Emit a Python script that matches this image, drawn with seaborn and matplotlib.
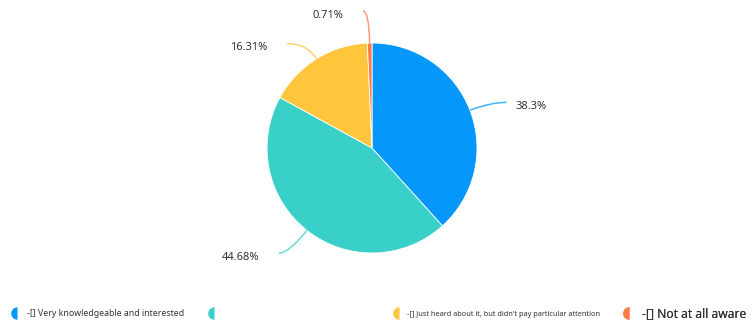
import numpy as np
import matplotlib
matplotlib.use("Agg")
import matplotlib.pyplot as plt
import seaborn as sns
from matplotlib.lines import Line2D
from matplotlib.markers import MarkerStyle
from matplotlib.path import Path
from matplotlib.patches import PathPatch

# data
categories = ["-[] Very knowledgeable and interested",
              "",
              "-[] Just heard about it, but didn't pay particular attention",
              "-[] Not at all aware"]
shares = [38.3, 44.68, 16.31, 0.71]
share_labels = ["38.3%", "44.68%", "16.31%", "0.71%"]
colors = ["#0598FA", "#38D0C8", "#FFC53D", "#FF7A45"]

# leader line lengths (radial part, horizontal part)
leader_l1 = [22, 29, 18, 32]
leader_l2 = [16, 10, 20, 6]

sns.set_theme(style="white")
plt.rcParams['font.family'] = ['Noto Sans', 'DejaVu Sans']

W, H = 752, 324
fig = plt.figure(figsize=(W / 100, H / 100), dpi=100)
ax = fig.add_axes([0, 0, 1, 1])

cx, cy, r = 372, 176, 105
wedges, _ = ax.pie(shares, colors=colors, startangle=90, counterclock=False,
                   center=(cx, cy), radius=r, frame=True,
                   wedgeprops=dict(linewidth=0.6, edgecolor="white"))
ax.set_xlim(0, W)
ax.set_ylim(0, H)
ax.set_aspect("equal")
ax.axis("off")

# smooth two-part leader lines (radial then horizontal)
for w, lab, c, l1, l2 in zip(wedges, share_labels, colors, leader_l1, leader_l2):
    ang = np.deg2rad((w.theta1 + w.theta2) / 2)
    side = 1 if np.cos(ang) > 0.05 else -1
    a = (cx + r * np.cos(ang), cy + r * np.sin(ang))
    b = (cx + (r + l1) * np.cos(ang), cy + (r + l1) * np.sin(ang))
    e = (b[0] + side * l2, b[1])
    path = Path([a, b, e], [Path.MOVETO, Path.CURVE3, Path.CURVE3])
    ax.add_patch(PathPatch(path, fc="none", ec=c, lw=1.1, alpha=0.75))
    gap = 9 if side > 0 else 20
    ax.text(e[0] + side * gap, e[1] - 4, lab,
            ha="left" if side > 0 else "right", va="center",
            fontsize=8, color="#333333")

# legend, one block per item
legend_x = [13, 210, 395, 623]
legend_fs = [6.3, 6.3, 5.3, 8.7]
for x, lab, c, fs in zip(legend_x, categories, colors, legend_fs):
    h = Line2D([], [], ls="", marker=MarkerStyle("o", fillstyle="left"),
               markersize=9, color=c, markeredgewidth=0,
               markerfacecoloralt="none")
    leg = ax.legend(handles=[h], labels=[lab], loc="center left",
                    bbox_to_anchor=(x / W, 10 / H), frameon=False,
                    fontsize=fs, handlelength=1.0, handletextpad=0.6,
                    borderpad=0, borderaxespad=0, labelcolor="#333333")
    ax.add_artist(leg)

fig.savefig("out.png", dpi=100)
